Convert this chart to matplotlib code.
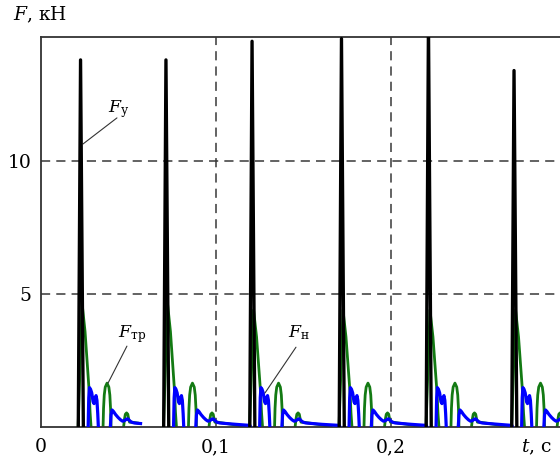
import numpy as np
import matplotlib.pyplot as plt

plt.rcParams['font.family'] = ['DejaVu Serif']
plt.rcParams['mathtext.fontset'] = 'dejavuserif'

# моменты ударов (пики F_у), с
spike_t = [0.0226, 0.0714, 0.1206, 0.1717, 0.2214, 0.2703]
spike_h = [13.8, 13.8, 14.5, 14.6, 15.2, 13.4]      # кН
tr_peak = [4.66, 4.66, 4.4, 4.4, 4.4, 4.4]          # первый пик F_тр, кН
cycle_end = [0.0569, 0.1206, 0.1717, 0.2214, 0.2703, 0.300]
tail_drop = [False, True, True, True, True, False]

# форма импульсов относительно момента удара (мс -> кН)
spike_ms = [-1.3, 0.0, 1.6]
tr1_ms = [-1.4, 0.86, 2.57, 3.71, 4.86, 5.43, 6.0]
tr1_rel = [0, 1.0, 0.77, 0.53, 0.3, 0.12, 0]
tr2_ms = [12.86, 13.14, 13.54, 14.11, 15.14, 16.17, 16.74, 17.14, 17.43]
tr2_kn = [0, 0.7, 1.2, 1.5, 1.65, 1.5, 1.2, 0.7, 0]
tr3_ms = [24.6, 25.1, 25.6, 26.3, 27.0, 27.5, 28.0, 29.5, 32.5, 37.5, 43.0, 45.0]
tr3_kn = [0, 0.3, 0.48, 0.53, 0.48, 0.3, 0.18, 0.18, 0.15, 0.1, 0.04, 0]
n1_ms = [4.34, 4.69, 5.09, 5.71, 6.4, 7.14, 7.71, 8.29, 8.86, 9.37, 9.83, 10.17]
n1_kn = [0, 1.1, 1.48, 1.42, 1.28, 0.95, 0.88, 1.1, 1.18, 1.0, 0.5, 0]
n2_ms = [17.03, 17.43, 18.0, 18.86, 20.0, 21.43, 22.86, 24.0, 25.14, 26.29,
         27.14, 28.0, 29.14, 30.86, 34.29, 40.0]
n2_kn = [0, 0.45, 0.64, 0.58, 0.47, 0.36, 0.27, 0.22, 0.24, 0.3,
         0.3, 0.24, 0.18, 0.15, 0.13, 0.1]


def piece(t0, ms, kn, t_end, extra=()):
    t = t0 + np.array(ms) / 1000
    v = np.array(kn, float)
    m = t <= t_end
    t, v = list(t[m]), list(v[m])
    for dt, val in extra:
        t.append(t_end - dt)
        v.append(val)
    return t + [np.nan], v + [np.nan]


ty, fy, tt, ft, tn, fn = [], [], [], [], [], []
for i, t0 in enumerate(spike_t):
    a, b = piece(t0, spike_ms, [0, spike_h[i], 0], 1)
    ty += a; fy += b
    for ms, kn in [(tr1_ms, np.array(tr1_rel) * tr_peak[i]), (tr2_ms, tr2_kn), (tr3_ms, tr3_kn)]:
        a, b = piece(t0, ms, kn, cycle_end[i])
        tt += a; ft += b
    a, b = piece(t0, n1_ms, n1_kn, cycle_end[i])
    tn += a; fn += b
    extra = [(0.0012, 0.06), (0.0009, 0)] if tail_drop[i] else ()
    a, b = piece(t0, n2_ms, n2_kn, cycle_end[i], extra)
    tn += a; fn += b

fig = plt.figure(figsize=(5.6, 4.59), dpi=100)
ax = fig.add_axes([41/560, 32/459, 519/560, 390/459])

for y in [5, 10]:
    ax.axhline(y, color='#383838', lw=1.1, dashes=(6, 4), zorder=1)
for x in [0.1, 0.2]:
    ax.axvline(x, color='#383838', lw=1.1, dashes=(6, 4), zorder=1)

ax.plot(tt, ft, color='#137a13', lw=2.0, zorder=2)
ax.plot(tn, fn, color='#0000ff', lw=2.3, zorder=3)
ax.plot(ty, fy, color='black', lw=2.4, zorder=4)

ax.set_xlim(0, 519/1750)
ax.set_ylim(0, 390/26.6)
ax.set_xticks([0, 0.1, 0.2], ['0', '0,1', '0,2'])
ax.set_yticks([5, 10], ['5', '10'])
ax.tick_params(length=0, labelsize=13.5)
ax.tick_params(axis='x', pad=8)
ax.tick_params(axis='y', pad=7)
ax.spines['right'].set_visible(False)
for s in ['left', 'top', 'bottom']:
    ax.spines[s].set_color('#333333')
    ax.spines[s].set_linewidth(1.3)

# подписи кривых
lead = dict(arrowstyle='-', color='#333333', lw=0.8, shrinkA=0, shrinkB=0)
ax.annotate('', xy=(0.024, 10.64), xytext=(0.0434, 11.62), arrowprops=lead)
ax.annotate('', xy=(0.0383, 1.65), xytext=(0.0491, 3.04), arrowprops=lead)
ax.annotate('', xy=(0.128, 1.28), xytext=(0.1457, 3.0), arrowprops=lead)
ax.text(0.0383, 11.84, r'$F_\mathrm{у}$', fontsize=12.5)
ax.text(0.044, 3.38, r'$F_\mathrm{тр}$', fontsize=12.5)
ax.text(0.1411, 3.38, r'$F_\mathrm{н}$', fontsize=12.5)

fig.text(13/560, 1 - 15/459, r'$F$, кН', fontsize=13.5, va='center')
fig.text(521/560, 1 - 447/459, r'$t$, с', fontsize=13.5, va='center')

fig.savefig('out.png', dpi=100)
